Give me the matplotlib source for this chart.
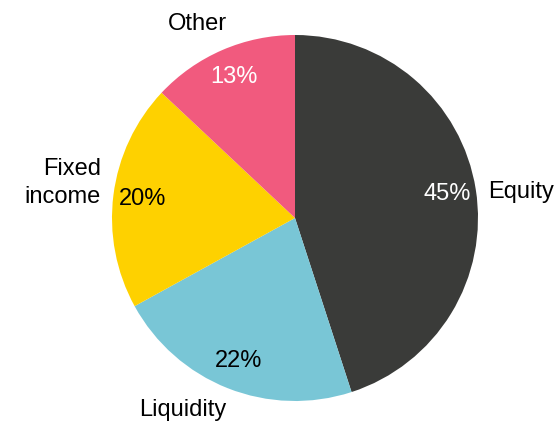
import matplotlib
matplotlib.use("Agg")
import matplotlib.pyplot as plt

categories = ["Equity", "Liquidity", "Fixed\nincome", "Other"]
shares = [45, 22, 20, 13]
colors = ["#3a3b39", "#79c6d6", "#fed100", "#f15a7e"]
pct_colors = ["white", "black", "black", "white"]

plt.rcParams["font.family"] = ["Liberation Sans", "DejaVu Sans"]

W, H = 560, 423
cx, cy, R = 295, 218, 183

fig = plt.figure(figsize=(W / 100, H / 100), dpi=100)
ax = fig.add_axes([0, 0, 1, 1])

wedges, texts, autotexts = ax.pie(
    shares, colors=colors, startangle=90, counterclock=False,
    autopct=lambda p: f"{p:.0f}%", pctdistance=0.84, radius=1.0,
    textprops=dict(fontsize=17),
)
for t, c in zip(autotexts, pct_colors):
    t.set_color(c)

# outer category labels (pixel anchors converted to data units)
def px(x, y):
    return (x - cx) / R, (cy - y) / R

label_layout = [
    (px(488, 192), "left", "center"),
    (px(183, 410), "center", "center"),
    (px(101, 183), "right", "center"),
    (px(197, 24), "center", "center"),
]
for name, ((x, y), ha, va) in zip(categories, label_layout):
    ax.text(x, y, name, ha=ha, va=va, fontsize=17, color="black",
            linespacing=1.4)

ax.set_xlim(-cx / R, (W - cx) / R)
ax.set_ylim(-(H - cy) / R, cy / R)
ax.set_aspect("auto")
ax.axis("off")

fig.savefig("out.png", dpi=100, facecolor="white")
